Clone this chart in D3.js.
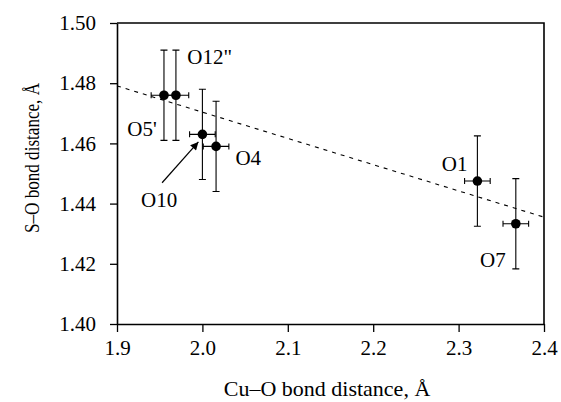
<!DOCTYPE html>
<html>
<head>
<meta charset="utf-8">
<script src="https://cdn.jsdelivr.net/npm/d3@7"></script>
<style>
  body { margin: 0; background: #fff; }
  svg text { font-family: "Liberation Serif", "Times New Roman", Times, serif !important; fill: #000; }
</style>
</head>
<body>
<script>
// data
const labels = ["O5'", "O12\"", "O10", "O4", "O1", "O7"];
const cuO = [1.955, 1.969, 2.000, 2.016, 2.322, 2.367];
const sO = [1.476, 1.476, 1.463, 1.459, 1.4475, 1.4333];
const cuOErr = [0.015, 0.015, 0.015, 0.015, 0.015, 0.015];
const sOErr = [0.015, 0.015, 0.015, 0.015, 0.015, 0.015];
const xTicks = [1.9, 2.0, 2.1, 2.2, 2.3, 2.4];
const yTicks = [1.40, 1.42, 1.44, 1.46, 1.48, 1.50];
// dashed trend line end points
const fitX = [1.9, 2.4];
const fitY = [1.4791, 1.4355];

const width = 561, height = 402;
const margin = {top: 23, right: 17, bottom: 78, left: 117};
const serif = "'Liberation Serif', 'Times New Roman', serif";

const svg = d3.select("body")
  .append("svg")
  .attr("width", width)
  .attr("height", height)
  .attr("font-family", serif);

const x = d3.scaleLinear()
  .domain([1.9, 2.4])
  .range([margin.left, width - margin.right]);

const y = d3.scaleLinear()
  .domain([1.40, 1.50])
  .range([height - margin.bottom, margin.top]);

// frame top and right
svg.append("path")
  .attr("d", `M${x(1.9)},${y(1.5)}H${x(2.4)}V${y(1.4)}`)
  .attr("fill", "none")
  .attr("stroke", "#000")
  .attr("stroke-width", 1.6);

// axes
const xAxis = svg.append("g")
  .attr("transform", `translate(0,${y(1.4)})`)
  .call(d3.axisBottom(x).tickValues(xTicks).tickFormat(d3.format(".1f"))
    .tickSize(8).tickPadding(8).tickSizeOuter(0));

const yAxis = svg.append("g")
  .attr("transform", `translate(${x(1.9)},0)`)
  .call(d3.axisLeft(y).tickValues(yTicks).tickFormat(d3.format(".2f"))
    .tickSize(7).tickPadding(14).tickSizeOuter(0));

[xAxis, yAxis].forEach(g => {
  g.attr("font-family", serif).attr("font-size", 21);
  g.select(".domain").attr("stroke-width", 1.6);
  g.selectAll(".tick line").attr("stroke-width", 1.3);
  g.selectAll(".tick text").attr("fill", "#000");
});
xAxis.selectAll(".tick text").attr("dy", "0.72em");

// axis titles
svg.append("text")
  .attr("x", 327)
  .attr("y", 396)
  .attr("text-anchor", "middle")
  .attr("font-size", 22)
  .text("Cu–O bond distance, Å");

svg.append("text")
  .attr("transform", "translate(39,158) rotate(-90)")
  .attr("text-anchor", "middle")
  .attr("textLength", 150)
  .attr("lengthAdjust", "spacingAndGlyphs")
  .attr("font-size", 20)
  .text("S–O bond distance, Å");

// dashed trend line
svg.append("line")
  .attr("x1", x(fitX[0])).attr("y1", y(fitY[0]))
  .attr("x2", x(fitX[1])).attr("y2", y(fitY[1]))
  .attr("stroke", "#000")
  .attr("stroke-width", 1.1)
  .attr("stroke-dasharray", "4,5");

const pts = labels.map((d, i) => ({
  label: d, x: cuO[i], y: sO[i], ex: cuOErr[i], ey: sOErr[i]
}));

const bars = svg.append("g")
  .attr("stroke", "#000")
  .attr("stroke-width", 1.1)
  .attr("fill", "none");

// vertical error bars
bars.selectAll(".ey")
  .data(pts)
  .enter()
  .append("path")
  .attr("d", d => {
    const cx = x(d.x), y0 = y(d.y - d.ey), y1 = y(d.y + d.ey);
    return `M${cx},${y0}V${y1}M${cx - 3.5},${y0}H${cx + 3.5}M${cx - 3.5},${y1}H${cx + 3.5}`;
  });

// horizontal error bars
bars.selectAll(".ex")
  .data(pts)
  .enter()
  .append("path")
  .attr("d", d => {
    const cy = y(d.y), x0 = x(d.x - d.ex), x1 = x(d.x + d.ex);
    return `M${x0},${cy}H${x1}M${x0},${cy - 3}V${cy + 3}M${x1},${cy - 3}V${cy + 3}`;
  });

svg.selectAll("circle")
  .data(pts)
  .enter()
  .append("circle")
  .attr("cx", d => x(d.x))
  .attr("cy", d => y(d.y))
  .attr("r", 4.8)
  .attr("fill", "#000");

// point labels, offsets in pixels from each point
const labelOffset = [[-36.6, 41], [11.3, -31.7], [-61.3, 72.7], [19.4, 18.3], [-35.6, -10.3], [-35.7, 43]];

svg.selectAll(".plabel")
  .data(pts)
  .enter()
  .append("text")
  .attr("class", "plabel")
  .attr("x", (d, i) => x(d.x) + labelOffset[i][0])
  .attr("y", (d, i) => y(d.y) + labelOffset[i][1])
  .attr("font-size", 21)
  .text(d => d.label);

// arrow from the O10 label to its point
svg.append("defs").append("marker")
  .attr("id", "head")
  .attr("viewBox", "0 0 10 10")
  .attr("refX", 10).attr("refY", 5)
  .attr("markerWidth", 13).attr("markerHeight", 8)
  .attr("markerUnits", "userSpaceOnUse")
  .attr("orient", "auto")
  .append("path")
  .attr("d", "M0,0L10,5L0,10Z")
  .attr("fill", "#000");

const o10 = pts[2];
svg.append("line")
  .attr("x1", x(o10.x) - 40.3).attr("y1", y(o10.y) + 48.4)
  .attr("x2", x(o10.x) - 4).attr("y2", y(o10.y) + 7.6)
  .attr("stroke", "#000")
  .attr("stroke-width", 1.2)
  .attr("marker-end", "url(#head)");
</script>
</body>
</html>
